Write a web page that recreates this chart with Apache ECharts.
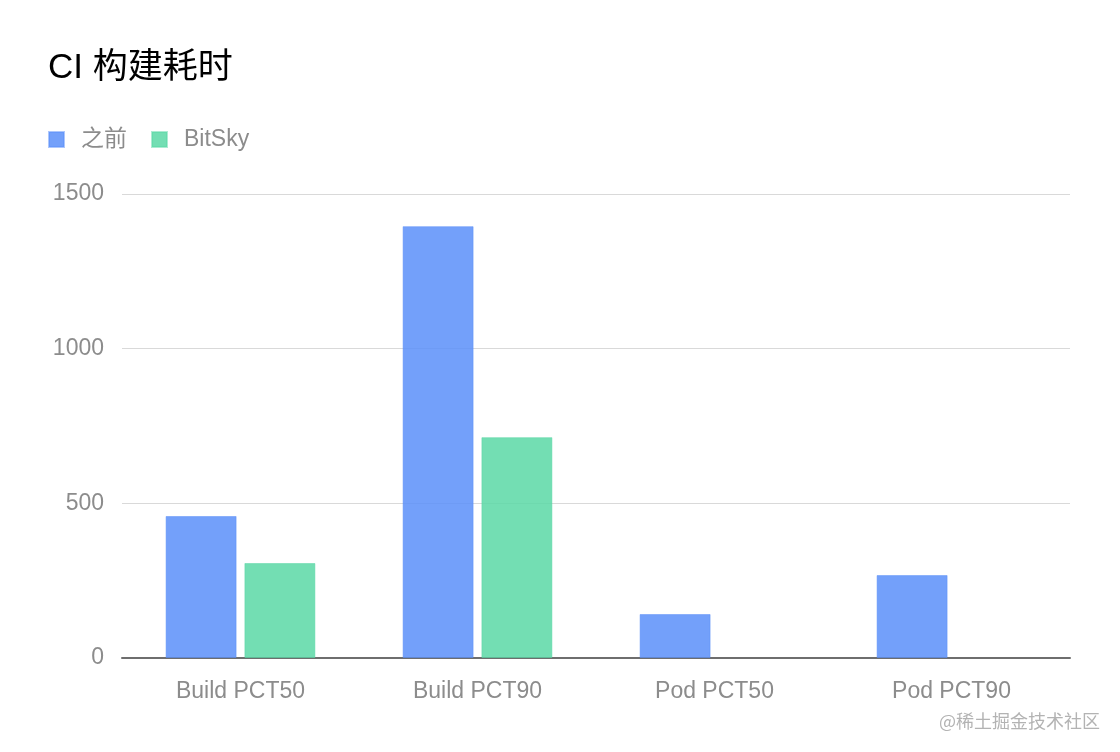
<!DOCTYPE html>
<html>
<head>
<meta charset="utf-8">
<script src="https://cdn.jsdelivr.net/npm/echarts@6/dist/echarts.min.js"></script>
<style>
html,body{margin:0;padding:0;background:#fff;}
#chart{width:1120px;height:752px;}
</style>
</head>
<body>
<div id="chart"></div>
<script>
const categories = ['Build PCT50', 'Build PCT90', 'Pod PCT50', 'Pod PCT90'];
const beforeValues = [459, 1396, 142, 268];
const bitskyValues = [307, 714, null, null];
const seriesNames = ['之前', 'BitSky'];

const FONT = '"Liberation Sans", "Noto Sans CJK SC", sans-serif';
const chart = echarts.init(document.getElementById('chart'), null, {renderer: 'canvas'});
chart.setOption({
  backgroundColor: '#ffffff',
  animation: false,
  title: {
    text: 'CI 构建耗时',
    left: 43, top: 46,
    textStyle: {color: '#000', fontSize: 35, fontWeight: 'normal', fontFamily: FONT}
  },
  legend: {
    data: seriesNames,
    left: 43, top: 123,
    icon: 'rect', itemWidth: 15, itemHeight: 15, itemGap: 24,
    textStyle: {color: '#8c8c8c', fontSize: 23, fontFamily: FONT, padding: [0, 0, 0, 12]}
  },
  grid: {left: 122, right: 50, top: 194, bottom: 94, containLabel: false},
  xAxis: {
    type: 'category',
    data: categories,
    axisLine: {lineStyle: {color: '#6e6e6e', width: 2}},
    axisTick: {show: false},
    axisLabel: {color: '#8c8c8c', fontSize: 23, fontFamily: FONT, margin: 22}
  },
  yAxis: {
    type: 'value',
    min: 0, max: 1500, interval: 500,
    axisLine: {show: false},
    axisTick: {show: false},
    splitLine: {lineStyle: {color: '#d9d9d9', width: 1}},
    axisLabel: {color: '#8c8c8c', fontSize: 23, fontFamily: FONT, margin: 18, formatter: v => String(v)}
  },
  series: [
    {
      name: seriesNames[0], type: 'bar', data: beforeValues,
      barWidth: 71, barGap: '11%',
      itemStyle: {color: 'rgba(91,143,249,0.85)', borderColor: 'rgba(91,143,249,0.5)', borderWidth: 1}
    },
    {
      name: seriesNames[1], type: 'bar', data: bitskyValues,
      barWidth: 71,
      itemStyle: {color: 'rgba(90,216,166,0.85)', borderColor: 'rgba(90,216,166,0.5)', borderWidth: 1}
    }
  ],
  graphic: [{
    type: 'text', right: 20, bottom: 22,
    style: {text: '@稀土掘金技术社区', fill: '#b3b3b3', font: '18px "Noto Sans CJK SC", sans-serif'}
  }]
});
</script>
</body>
</html>
